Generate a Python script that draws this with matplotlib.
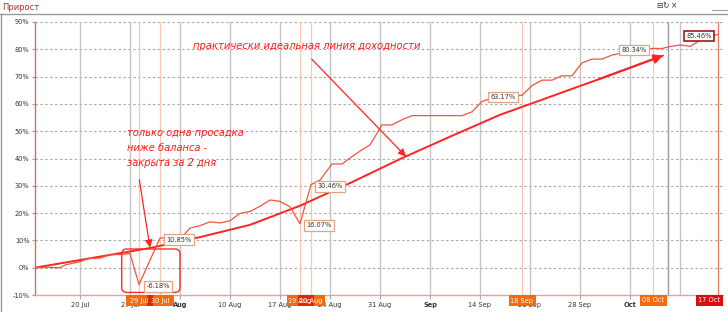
import matplotlib
matplotlib.use("Agg")
import matplotlib.pyplot as plt
import matplotlib.transforms as mtransforms
from matplotlib.patches import Rectangle, FancyBboxPatch
from matplotlib.lines import Line2D

# ---------------- data (x = trading-day index, 20 Jul = 0) ----------------
eq_days = [-4.5, -3, -2, -1.5, 0, 0.8, 2, 3, 4, 5, 5.9, 8, 10.2, 11, 12, 13, 14, 15,
           16, 17, 18, 19, 20, 21, 22, 23.1, 24, 25.2, 26.2, 27.2, 28.2, 29, 30.2,
           31.2, 32.2, 33.2, 38.2, 39.2, 40.2, 41, 44.2, 45.2, 46.2, 47.2, 48.2,
           49.2, 50.2, 51.2, 52.2, 53.2, 55.5, 57.3, 58.2, 59, 60, 61, 62, 63, 63.8]
eq_vals = [0, 0.1, 0, 1.0, 2.2, 3.4, 3.5, 4.8, 4.8, 5.2, -6.18, 10.85, 11.3, 14.5,
           15.4, 16.8, 16.4, 17.2, 19.9, 20.6, 22.5, 24.8, 24.3, 22.3, 16.07, 30.46,
           32.1, 38.0, 38.0, 40.7, 43.2, 45.0, 52.3, 52.3, 54.2, 55.7, 55.7, 57.1,
           60.9, 61.8, 63.17, 66.7, 68.7, 68.7, 70.3, 70.3, 75.0, 76.4, 76.4, 77.9,
           79.5, 80.34, 80.3, 81.0, 81.6, 81.1, 83.2, 84.7, 85.46]

ideal_days = [-4.5, 7, 12, 17, 22, 27, 32, 37, 42, 47, 52, 58.3]
ideal_vals = [0, 7.2, 11.2, 15.7, 22.7, 31.0, 39.8, 48.0, 56.0, 62.6, 69.2, 77.7]

event_days = [5.9, 8, 22, 23.1, 44.2, 57.3, 63.8]
event_dates = ["29 Jul", "30 Jul", "19 Aug", "20 Aug", "18 Sep", "08 Oct", "17 Oct"]
event_vals = [-6.18, 10.85, 16.07, 30.46, 63.17, 80.34, 85.46]
event_side = [1, 1, 1, 1, -1, -1, -1]

tick_days = [0, 5, 10, 15, 20, 25, 30, 35, 40, 45, 50, 55]
tick_labels = ["20 Jul", "27 Jul", "Aug", "10 Aug", "17 Aug", "24 Aug", "31 Aug",
               "Sep", "14 Sep", "21 Sep", "28 Sep", "Oct"]
month_labels = ["Aug", "Sep", "Oct"]
extra_grid = [60]
now_day = 58.8

y_ticks = [-10, 0, 10, 20, 30, 40, 50, 60, 70, 80, 90]

note_main = "практически идеальная линия доходности"
note_dd = ["только одна просадка", "ниже баланса -", "закрыта за 2 дня"]

# ---------------- figure ----------------
W, H = 728, 312
fig = plt.figure(figsize=(W / 100, H / 100), dpi=100)
fig.patch.set_facecolor("white")
ax = fig.add_axes([35 / W, 1 - 295 / H, 688 / W, 273 / H])
ax.set_xlim(-4.5, 64.3)
ax.set_ylim(-10, 90)
ax.set_facecolor("white")

for yv in y_ticks[1:]:
    ax.axhline(yv, color="#a8a8a8", lw=0.8, ls=(0, (2.2, 2.2)), zorder=1)
for d in tick_days + extra_grid:
    ax.axvline(d, color="#c4c4c4", lw=1.0, zorder=1)
ax.axvline(now_day, color="#9a9a9a", lw=1.0, zorder=1)

for i, d in enumerate(event_days):
    col = "#f07a55" if i == len(event_days) - 1 else "#f8c8b2"
    ax.axvline(d, color=col, lw=0.9, zorder=1.5)

# ideal line with arrow
red = "#ff2323"
ax.plot(ideal_days, ideal_vals, color=red, lw=1.4, zorder=3, solid_capstyle="round")
ax.annotate("", xy=(ideal_days[-1], ideal_vals[-1]), xytext=(ideal_days[-2], ideal_vals[-2]),
            arrowprops=dict(arrowstyle="-|>,head_length=0.55,head_width=0.28", color=red,
                            lw=1.4, shrinkA=0, shrinkB=0), zorder=3)

# equity line
ax.plot(eq_days, eq_vals, color="#f2553c", lw=0.9, zorder=4)

# value labels
for d, v, s in zip(event_days, event_vals, event_side):
    last = (d == event_days[-1])
    ax.annotate(f"{v:.2f}%", xy=(d, v), xytext=(s * 13.8, -1.2), textcoords="offset points",
                ha="center", va="center", fontsize=4.8, color="#333333", zorder=6,
                bbox=dict(boxstyle="square,pad=0.35", fc="white",
                          ec="#a01818" if last else "#e2a47e", lw=1.2 if last else 0.9))

# annotations
ax.annotate("", xy=(32.6, 40.7), xytext=(23.17, 76.4),
            arrowprops=dict(arrowstyle="-|>,head_length=0.45,head_width=0.22", color=red,
                            lw=0.9, shrinkA=0, shrinkB=0), zorder=5)
ax.annotate("", xy=(7.0, 7.3), xytext=(5.93, 32.2),
            arrowprops=dict(arrowstyle="-|>,head_length=0.45,head_width=0.22", color=red,
                            lw=0.9, shrinkA=0, shrinkB=0), zorder=5)
ax.text(11.3, 80.2, note_main, style="italic", color="#ff1a1a", fontsize=7.2,
        va="baseline", ha="left", zorder=6)
for txt, yb in zip(note_dd, [48.1, 42.6, 37.4]):
    ax.text(4.7, yb, txt, style="italic", color="#ff1a1a", fontsize=7.1,
            va="baseline", ha="left", zorder=6)

box = FancyBboxPatch((4.17, -9.05), 5.83, 15.9,
                     boxstyle="round,pad=0,rounding_size=0.5", mutation_aspect=3.66,
                     fc="none", ec="#ff2a2a", lw=1.0, zorder=5)
ax.add_patch(box)

# axes styling
ax.set_xticks(tick_days)
ax.set_xticklabels(tick_labels)
for lab in ax.get_xticklabels():
    if lab.get_text() in month_labels:
        lab.set_fontweight("bold")
        lab.set_color("#111111")
ax.set_yticks(y_ticks)
ax.set_yticklabels([f"{v}%" for v in y_ticks])
ax.tick_params(axis="x", length=3, color="#aaaaaa", labelsize=4.8, pad=2,
               labelcolor="#333333")
ax.tick_params(axis="y", length=2.5, color="#d08878", labelsize=4.8, pad=1.5,
               labelcolor="#333333")
for lab in ax.get_xticklabels() + ax.get_yticklabels():
    lab.set_fontfamily("DejaVu Sans")
ax.spines["top"].set_visible(False)
ax.spines["right"].set_visible(False)
ax.spines["left"].set_color("#c27a68")
ax.spines["bottom"].set_color("#d8a898")
ax.spines["left"].set_linewidth(1.0)
ax.spines["bottom"].set_linewidth(1.0)

# event boxes below the axis
trans = mtransforms.blended_transform_factory(ax.transData, ax.transAxes)
bw = 2.7
bh = 11 / 273
xmax = ax.get_xlim()[1]
spans = []
for i, d in enumerate(event_days):
    x0 = min(d - bw / 2, xmax - bw)
    spans.append((x0, x0 + bw))
    col = "#d81010" if i == len(event_days) - 1 else "#f26b10"
    ax.add_patch(Rectangle((x0, -bh), bw, bh, transform=trans, fc=col, ec="none",
                           clip_on=False, zorder=7))
for (a0, a1), (b0, b1) in zip(spans[:-1], spans[1:]):
    lo, hi = max(a0, b0), min(a1, b1)
    if hi > lo:
        ax.add_patch(Rectangle((lo, -bh), hi - lo, bh, transform=trans, fc="#e02800",
                               ec="none", clip_on=False, zorder=7.5))
for (x0, x1), lab in zip(spans, event_dates):
    ax.text((x0 + x1) / 2, -bh / 2, lab, transform=trans, ha="center", va="center",
            fontsize=4.8, color="white", clip_on=False, zorder=8)

# panel chrome
fig.text(2 / W, 1 - 7 / H, "Прирост", fontsize=6, color="#b03030", va="center", ha="left")
fig.add_artist(Line2D([0, 1], [1 - 13.5 / H] * 2, color="#9a9a9a", lw=1.0,
                      transform=fig.transFigure))
fig.add_artist(Line2D([0.6 / W] * 2, [0, 1 - 13.5 / H], color="#9a9a9a", lw=1.0,
                      transform=fig.transFigure))
fig.add_artist(Line2D([712 / W, 1], [1 - 10 / H] * 2, color="#9a9a9a", lw=0.8,
                      transform=fig.transFigure))
for xp, g in zip([659, 666, 674], ["⊟", "↻", "×"]):
    fig.text(xp / W, 1 - 6 / H, g, fontsize=5.5, color="#333333", ha="center", va="center")

fig.savefig("out.png", dpi=100)
